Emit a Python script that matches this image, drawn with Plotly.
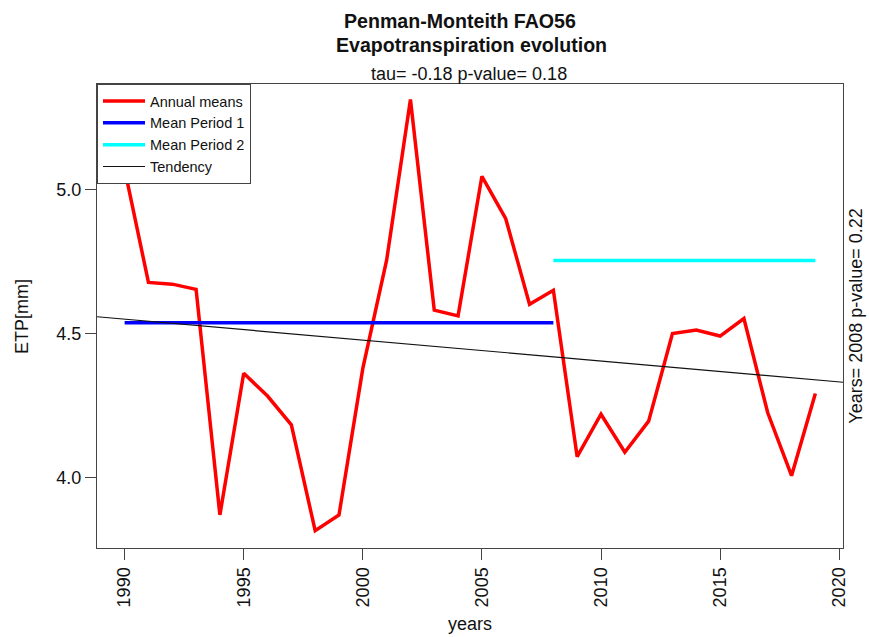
import plotly.graph_objects as go

# ---- data ----
years = list(range(1990, 2020))
annual_means = [5.07, 4.677, 4.671, 4.653, 3.871, 4.362, 4.283, 4.183, 3.816, 3.871,
                4.379, 4.754, 5.311, 4.581, 4.561, 5.045, 4.898, 4.601, 4.650, 4.073,
                4.220, 4.088, 4.196, 4.500, 4.512, 4.491, 4.552, 4.225, 4.007, 4.292]
break_year = 2008
mean_period1 = 4.537
mean_period2 = 4.753
trend_at_1990 = 4.5496
trend_slope = -0.00725  # per year

x_ticks = [1990, 1995, 2000, 2005, 2010, 2015, 2020]
y_ticks = [4.0, 4.5, 5.0]
y_tick_labels = ["4.0", "4.5", "5.0"]

x_range = [1988.84, 2020.16]
y_range = [3.7562, 5.365]

title1 = "<b>Penman-Monteith FAO56</b>"
title2 = "<b>Evapotranspiration evolution</b>"
subtitle = "tau= -0.18 p-value= 0.18"
right_text = "Years= 2008 p-value= 0.22"

FONT = "Liberation Sans, Arial, sans-serif"

fig = go.Figure()
fig.add_trace(go.Scatter(x=years, y=annual_means, mode="lines", name="Annual means",
                         line=dict(color="#FF0000", width=3.5)))
fig.add_trace(go.Scatter(x=[years[0], break_year], y=[mean_period1, mean_period1], mode="lines",
                         name="Mean Period 1", line=dict(color="#0000FF", width=3.5)))
fig.add_trace(go.Scatter(x=[break_year, years[-1]], y=[mean_period2, mean_period2], mode="lines",
                         name="Mean Period 2", line=dict(color="#00FFFF", width=3.5)))
trend_x = x_range
trend_y = [trend_at_1990 + trend_slope * (v - 1990) for v in trend_x]
fig.add_trace(go.Scatter(x=trend_x, y=trend_y, mode="lines", name="Tendency",
                         line=dict(color="#111111", width=1.2)))

axis_common = dict(showgrid=False, zeroline=False, showline=True, mirror=True,
                   linecolor="#444444", linewidth=1.3, ticks="outside", ticklen=11,
                   tickwidth=1.2, tickcolor="#444444",
                   tickfont=dict(family=FONT, size=18, color="#111111"))

fig.update_xaxes(range=x_range, tickvals=x_ticks, ticktext=[str(t) for t in x_ticks],
                 tickangle=-90, **axis_common)
fig.update_yaxes(range=y_range, tickvals=y_ticks, ticktext=y_tick_labels, **axis_common)

fig.update_layout(
    width=869, height=637,
    margin=dict(l=97, r=26, t=84, b=89, pad=0),
    plot_bgcolor="white", paper_bgcolor="white",
    font=dict(family=FONT, color="#111111"),
    showlegend=True,
    legend=dict(x=0, y=1, xanchor="left", yanchor="top", bgcolor="white",
                bordercolor="#444444", borderwidth=1,
                font=dict(family=FONT, size=14.5, color="#111111"),
                tracegroupgap=0, itemwidth=42),
    annotations=[
        dict(text=title1, x=0.4864, y=1.1347, xref="paper", yref="paper",
             xanchor="center", yanchor="middle", showarrow=False,
             font=dict(family=FONT, size=19.6, color="#111111")),
        dict(text=title2, x=0.5014, y=1.0830, xref="paper", yref="paper",
             xanchor="center", yanchor="middle", showarrow=False,
             font=dict(family=FONT, size=19.6, color="#111111")),
        dict(text=subtitle, x=0.4985, y=1.0216, xref="paper", yref="paper",
             xanchor="center", yanchor="middle", showarrow=False,
             font=dict(family=FONT, size=18, color="#111111")),
        dict(text="years", x=0.5, y=-0.1631, xref="paper", yref="paper",
             xanchor="center", yanchor="middle", showarrow=False,
             font=dict(family=FONT, size=18, color="#111111")),
        dict(text="ETP[mm]", x=-0.1006, y=0.5, xref="paper", yref="paper",
             xanchor="center", yanchor="middle", showarrow=False, textangle=-90,
             font=dict(family=FONT, size=18, color="#111111")),
        dict(text=right_text, x=1.017, y=0.5, xref="paper", yref="paper",
             xanchor="center", yanchor="middle", showarrow=False, textangle=-90,
             font=dict(family=FONT, size=18, color="#111111")),
    ],
)

fig.write_html("out.html", config={"displayModeBar": False},
               post_script="document.body.style.margin='0px';document.body.style.overflow='hidden';")
